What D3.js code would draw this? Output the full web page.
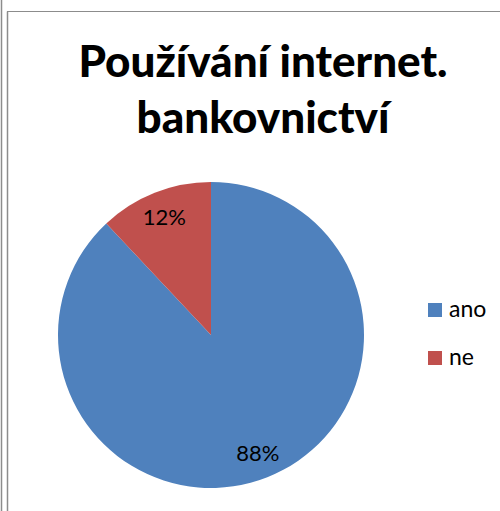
<!DOCTYPE html>
<html>
<head>
<meta charset="utf-8">
<script src="https://cdn.jsdelivr.net/npm/d3@7/dist/d3.min.js"></script>
<style>
  html, body { margin: 0; padding: 0; background: #fff; }
  svg { display: block; }
</style>
</head>
<body>
<svg id="chart" width="500" height="511"></svg>
<script>
// Data
const categories = ["ano", "ne"];
const values = [88, 12];
const colors = ["#4F81BD", "#C0504D"];
const titleLines = ["Používání internet.", "bankovnictví"];

const W = 500, H = 511;
const svg = d3.select("#chart");
const font = "Lato, 'Open Sans', sans-serif";

// Frame lines
svg.append("line").attr("x1", 1.5).attr("y1", 0).attr("x2", 1.5).attr("y2", H)
  .attr("stroke", "#8c8c8c").attr("stroke-width", 1.5);
svg.append("line").attr("x1", 7.5).attr("y1", 11.5).attr("x2", 7.5).attr("y2", H)
  .attr("stroke", "#8c8c8c").attr("stroke-width", 1.5);
svg.append("line").attr("x1", 7).attr("y1", 11.5).attr("x2", W).attr("y2", 11.5)
  .attr("stroke", "#8c8c8c").attr("stroke-width", 1.2);

// Title
const title = svg.append("text")
  .attr("text-anchor", "middle")
  .attr("font-family", font)
  .attr("font-weight", 900)
  .attr("font-size", 44)
  .attr("fill", "#000");
titleLines.forEach((t, i) => {
  title.append("tspan").attr("x", 263).attr("y", 77 + i * 56).text(t);
});

// Pie
const cx = 211, cy = 335, r = 153;
const pie = d3.pie().sort(null).value(d => d.v);
const arcs = pie(categories.map((c, i) => ({ c, v: values[i], col: colors[i] })));
const arc = d3.arc().innerRadius(0).outerRadius(r);
const labelArc = d3.arc().innerRadius(r * 0.83).outerRadius(r * 0.83);
const total = d3.sum(values);

const g = svg.append("g").attr("transform", `translate(${cx},${cy})`);
g.selectAll("path").data(arcs).join("path")
  .attr("d", arc)
  .attr("fill", d => d.data.col);

g.selectAll("text.lbl").data(arcs).join("text")
  .attr("class", "lbl")
  .attr("transform", d => `translate(${labelArc.centroid(d)})`)
  .attr("text-anchor", "middle")
  .attr("dy", "0.35em")
  .attr("font-family", font)
  .attr("font-size", 22)
  .attr("fill", "#000")
  .text(d => Math.round(d.data.v / total * 100) + "%");

// Legend
const legend = svg.append("g");
categories.forEach((c, i) => {
  const y = 303 + i * 48;
  legend.append("rect").attr("x", 428).attr("y", y).attr("width", 14).attr("height", 14)
    .attr("fill", colors[i]);
  legend.append("text").attr("x", 449).attr("y", y + 14)
    .attr("font-family", font).attr("font-size", 23).attr("fill", "#000").text(c);
});
</script>
</body>
</html>
